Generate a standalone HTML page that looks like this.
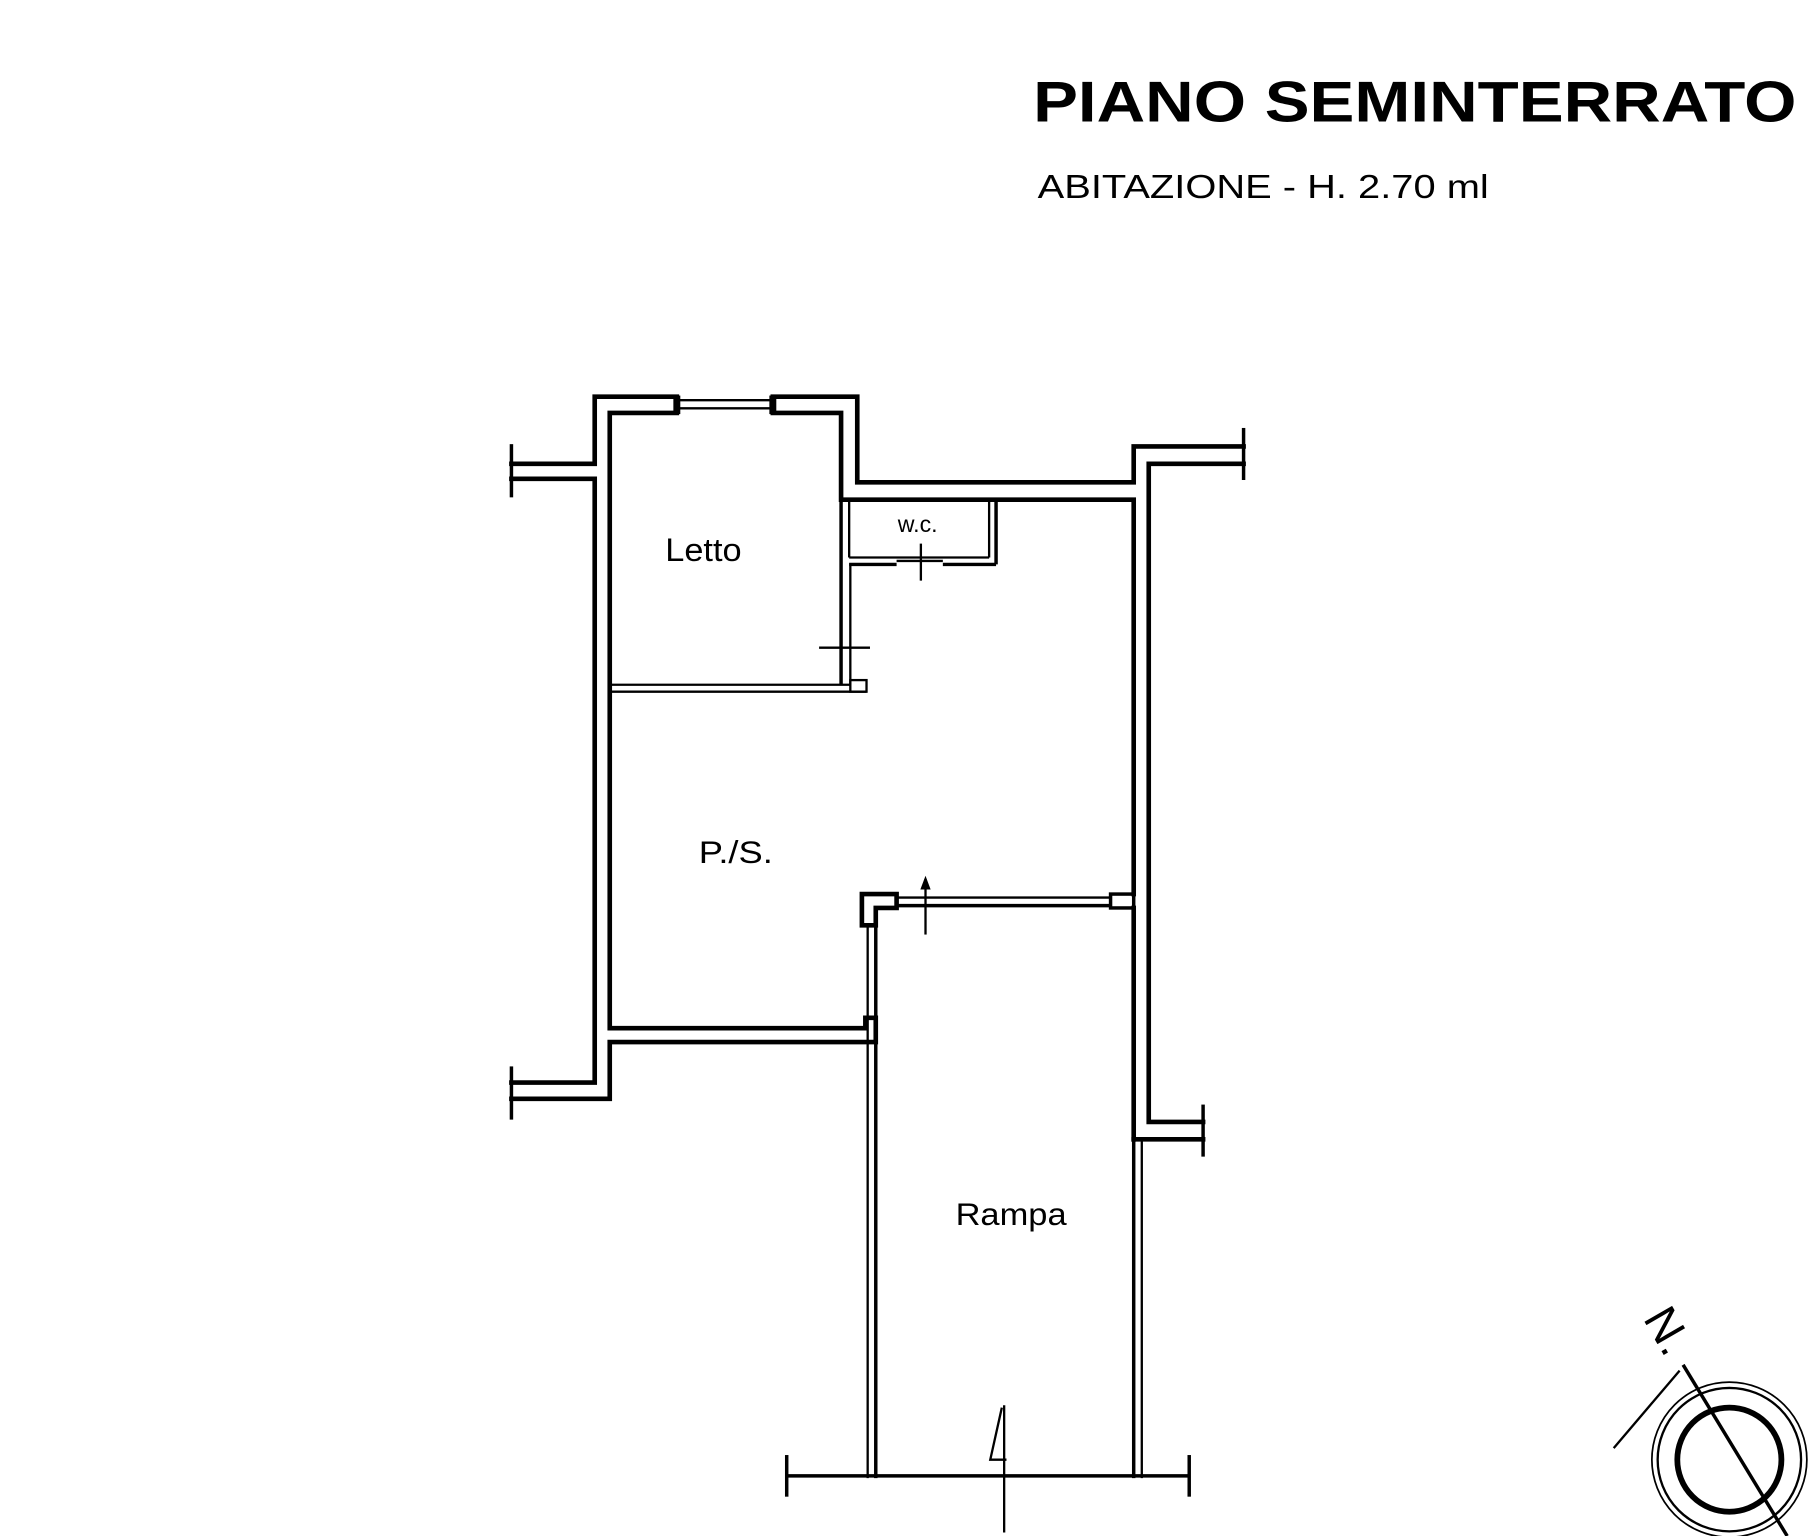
<!DOCTYPE html>
<html><head><meta charset="utf-8"><style>
html,body{margin:0;padding:0;background:#fff;}
svg{display:block;}
text{font-family:"Liberation Sans",Arial,sans-serif;fill:#000;}
</style></head><body>
<svg width="1814" height="1536" viewBox="0 0 1568 1328" xmlns="http://www.w3.org/2000/svg">
<text x="893" y="105" font-size="50" font-weight="bold" textLength="660" lengthAdjust="spacingAndGlyphs">PIANO SEMINTERRATO</text>
<text x="897" y="171" font-size="29" textLength="390" lengthAdjust="spacingAndGlyphs">ABITAZIONE - H. 2.70 ml</text>
<g fill="none" stroke="#000" stroke-width="4" stroke-linecap="square">
<polyline points="442,401 514,401 514,343 585,343"/>
<polyline points="668,343 741,343 741,417 980,417 980,386 1075,386"/>
<polyline points="442,414 514,414 514,936 442,936"/>
<polyline points="442,950 527,950 527,901 757,901 757,880 748,880 748,889 527,889 527,357 585,357"/>
<polyline points="668,357 727,357 727,432 980,432 980,773"/>
<polyline points="1075,401 993,401 993,970 1040,970"/>
<line x1="980" y1="785" x2="980" y2="985"/>
<polyline points="980,985 1040,985"/>
<polyline points="745,773 775,773 775,785 757,785 757,800 745,800 745,773"/>
</g>
<g fill="none" stroke="#000" stroke-width="2">
<line x1="585" y1="346" x2="668" y2="346"/><line x1="585" y1="353" x2="668" y2="353"/>
<rect x="583" y="343" width="4" height="14" fill="#000"/><rect x="666" y="343" width="4" height="14" fill="#000"/>
<line x1="442" y1="384" x2="442" y2="430" stroke-width="3"/>
<line x1="442" y1="922" x2="442" y2="968" stroke-width="3"/>
<line x1="1075" y1="370" x2="1075" y2="415" stroke-width="3"/>
<line x1="1040" y1="955" x2="1040" y2="1000" stroke-width="3"/>
<line x1="734" y1="432" x2="734" y2="482"/>
<line x1="855" y1="432" x2="855" y2="482"/><line x1="861" y1="432" x2="861" y2="488" stroke-width="3"/>
<line x1="734" y1="482" x2="855" y2="482"/>
<line x1="734" y1="488" x2="775" y2="488" stroke-width="3"/><line x1="815" y1="488" x2="861" y2="488" stroke-width="3"/>
<line x1="775" y1="485" x2="815" y2="485"/>
<line x1="796" y1="470" x2="796" y2="502"/>
<line x1="727" y1="432" x2="727" y2="592" stroke-width="3"/><line x1="735" y1="487" x2="735" y2="592"/>
<line x1="708" y1="560" x2="752" y2="560"/>
<line x1="527" y1="592" x2="735" y2="592"/><line x1="527" y1="598" x2="749" y2="598"/>
<rect x="735" y="588" width="14" height="10"/>
<line x1="750" y1="800" x2="750" y2="1278"/><line x1="757" y1="800" x2="757" y2="1278" stroke-width="3"/>
<line x1="980" y1="985" x2="980" y2="1278" stroke-width="3"/><line x1="987" y1="985" x2="987" y2="1278"/>
<line x1="775" y1="776" x2="960" y2="776"/><line x1="775" y1="783" x2="960" y2="783" stroke-width="3"/>
<rect x="960" y="773" width="20" height="12" stroke-width="3"/>
<line x1="800" y1="760" x2="800" y2="808"/>
<path d="M797,768 L800,760 L803,768 Z" fill="#000"/>
<line x1="680" y1="1276" x2="1028" y2="1276" stroke-width="3"/>
<line x1="680" y1="1258" x2="680" y2="1294" stroke-width="3"/>
<line x1="1028" y1="1258" x2="1028" y2="1294" stroke-width="3"/>
<line x1="868" y1="1215" x2="868" y2="1325"/>
<path d="M866,1217 L856,1262 L870,1262" />
<circle cx="1495" cy="1262" r="62"/>
<circle cx="1495" cy="1262" r="67" stroke-width="1.5"/>
<circle cx="1495" cy="1262" r="45" stroke-width="5"/>
<line x1="1455" y1="1180" x2="1545" y2="1328" stroke-width="3"/>
<line x1="1395" y1="1252" x2="1452" y2="1185" stroke-width="2"/>
</g>
<text x="575" y="485" font-size="28" textLength="66" lengthAdjust="spacingAndGlyphs">Letto</text>
<text x="776" y="460" font-size="20">w.c.</text>
<text x="604" y="746" font-size="27" textLength="64" lengthAdjust="spacingAndGlyphs">P./S.</text>
<text x="826" y="1059" font-size="27" textLength="96" lengthAdjust="spacingAndGlyphs">Rampa</text>
<text x="0" y="0" font-size="40" transform="translate(1420,1140) rotate(60)">N.</text>
</svg>
</body></html>
